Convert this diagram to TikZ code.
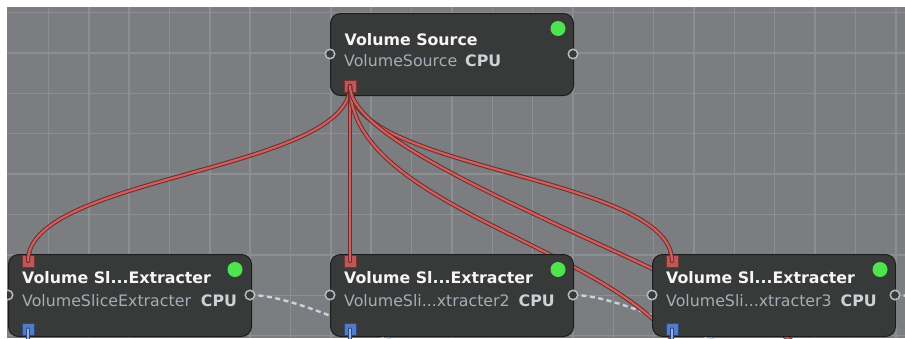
\documentclass[tikz,border=0pt]{standalone}
\usepackage{fontspec}
\setmainfont{DejaVu Sans}
\definecolor{canvas}{RGB}{123,125,128}
\definecolor{gridc}{RGB}{140,142,145}
\definecolor{nodefill}{RGB}{56,57,57}
\definecolor{nodeedge}{RGB}{28,28,28}
\definecolor{titlec}{RGB}{245,245,245}
\definecolor{subc}{RGB}{165,173,182}
\definecolor{cpuc}{RGB}{205,210,215}
\definecolor{dotc}{RGB}{78,228,78}
\definecolor{portred}{RGB}{190,88,88}
\definecolor{portredd}{RGB}{120,50,50}
\definecolor{portblue}{RGB}{84,124,196}
\definecolor{portblued}{RGB}{45,70,125}
\definecolor{linkred}{RGB}{206,96,96}
\definecolor{linkdark}{RGB}{110,44,44}
\definecolor{linkblue}{RGB}{150,178,228}
\definecolor{dashc}{RGB}{200,212,222}
\definecolor{sideport}{RGB}{185,188,190}
\newcommand\srclinks{%
  \draw[redlink] (srcout) .. controls +(0,85) and +(0,-85) .. (in1);
  \draw[redlink] (srcout) -- (in2);
  \draw[redlink] (srcout) .. controls +(0,85) and +(0,-85) .. (in3);
  \draw[redlink] (srcout) .. controls +(0,137) and +(0,-137) .. (farA);
  \draw[redlink] (srcout) .. controls +(0,87) and +(0,-87) .. (farB);
}
\begin{document}
\begin{tikzpicture}[x=1pt,y=-1pt,
  gridline/.style={draw=gridc, line width=1.5pt},
  procbox/.style={draw=nodeedge, line width=1pt, fill=nodefill, rounded corners=10pt,
    minimum width=243pt, minimum height=82pt, anchor=north west, inner sep=0pt},
  titletext/.style={anchor=base west, inner sep=0pt, text=titlec,
    font=\bfseries\fontsize{15.8}{18}\selectfont},
  subtext/.style={anchor=base west, inner sep=0pt, text=subc,
    font=\fontsize{15.8}{18}\selectfont},
  statusdot/.style={circle, fill=dotc, minimum size=15pt, inner sep=0pt},
  inport/.style={rectangle, fill=portred, draw=portredd, line width=0.8pt,
    minimum size=12pt, inner sep=0pt},
  outportb/.style={rectangle, fill=portblue, draw=portblued, line width=0.8pt,
    minimum size=12pt, inner sep=0pt},
  sideportc/.style={circle, fill=nodefill, draw=sideport, line width=1.5pt,
    minimum size=9.5pt, inner sep=0pt},
  redlink/.style={draw=linkred, line width=2.2pt, line cap=round,
    preaction={draw=linkdark, line width=4.2pt, line cap=round}},
  bluelink/.style={draw=linkblue, line width=2.2pt, line cap=round,
    preaction={draw=portblued, line width=4.2pt, line cap=round}},
  dashlink/.style={draw=dashc, line width=2.4pt, dash pattern=on 5pt off 3.5pt},
]
\useasboundingbox (0,0) rectangle (905,338);
\fill[white] (0,0) rectangle (905,338);
\begin{scope}
\clip (7,7) rectangle (905,338);
\fill[canvas] (7,7) rectangle (905,338);
\foreach \i in {0,...,21} \draw[gridline] ({48.4+40.35*\i},7) -- ({48.4+40.35*\i},338);
\foreach \j in {0,...,8} \draw[gridline] (7,{12.5+40.4*\j}) -- (905,{12.5+40.4*\j});

% port coordinates
\coordinate (srcout) at (350,86);
\coordinate (in1) at (28,261);
\coordinate (in2) at (350,261);
\coordinate (in3) at (672,261);
\coordinate (out1) at (28,329.5);
\coordinate (out2) at (350,329.5);
\coordinate (out3) at (672,329.5);
\coordinate (farA) at (692,394);
\coordinate (farB) at (852,404);
\coordinate (r1) at (250,295);
\coordinate (r2) at (573,295);
\coordinate (r3) at (895,295);
\coordinate (d1) at (420,350);
\coordinate (d2) at (743,350);
\coordinate (d3) at (1065,350);
\coordinate (b1) at (28,352);
\coordinate (b2) at (350,352);
\coordinate (b3) at (672,352);

% property links (dashed)
\draw[dashlink] (r1) .. controls +(45,0) and +(-50,-15) .. (d1);
\draw[dashlink] (r2) .. controls +(45,0) and +(-50,-15) .. (d2);
\draw[dashlink] (r3) .. controls +(45,0) and +(-50,-15) .. (d3);

% data links
\srclinks

% processor boxes
\node[procbox] (src) at (330,13) {};
\node[procbox] (ex1) at (8,254) {};
\node[procbox] (ex2) at (330,254) {};
\node[procbox] (ex3) at (652,254) {};

% texts
\node[titletext] (srct) at (344.5,45) {Volume Source};
\node[subtext] (srcs) at (344,66) {VolumeSource\hspace{8pt}{\bfseries\color{cpuc}CPU}};
\node[titletext] (ex1t) at (22,283) {Volume Sl...Extracter};
\node[subtext] (ex1s) at (22,306) {VolumeSliceExtracter\hspace{10pt}{\bfseries\color{cpuc}CPU}};
\node[titletext] (ex2t) at (344,283) {Volume Sl...Extracter};
\node[subtext] (ex2s) at (344,306) {VolumeSli...xtracter2\hspace{9pt}{\bfseries\color{cpuc}CPU}};
\node[titletext] (ex3t) at (666,283) {Volume Sl...Extracter};
\node[subtext] (ex3s) at (666,306) {VolumeSli...xtracter3\hspace{9pt}{\bfseries\color{cpuc}CPU}};

% status dots
\node[statusdot] (srcdot) at (558,28.5) {};
\node[statusdot] (ex1dot) at (235,269.5) {};
\node[statusdot] (ex2dot) at (558,269.5) {};
\node[statusdot] (ex3dot) at (880,269.5) {};

% side ports
\node[sideportc] (srcl) at (330,54) {};
\node[sideportc] (srcr) at (573,54) {};
\node[sideportc] (ex1l) at (8,295) {};
\node[sideportc] (ex1r) at (r1) {};
\node[sideportc] (ex2l) at (330,295) {};
\node[sideportc] (ex2r) at (r2) {};
\node[sideportc] (ex3l) at (652,295) {};
\node[sideportc] (ex3r) at (r3) {};

% data ports
\node[inport] (srcoutp) at (srcout) {};
\node[inport] (in1p) at (in1) {};
\node[inport] (in2p) at (in2) {};
\node[inport] (in3p) at (in3) {};
\node[outportb] (out1p) at (out1) {};
\node[outportb] (out2p) at (out2) {};
\node[outportb] (out3p) at (out3) {};

% link ends over the ports
\begin{scope}
\clip (343,79) rectangle (357,97) (21,252) rectangle (35,268)
      (343,252) rectangle (357,268) (665,252) rectangle (679,268);
\srclinks
\end{scope}
\draw[bluelink] (out1) -- (b1);
\draw[bluelink] (out2) -- (b2);
\draw[bluelink] (out3) -- (b3);
\end{scope}
\end{tikzpicture}
\end{document}
